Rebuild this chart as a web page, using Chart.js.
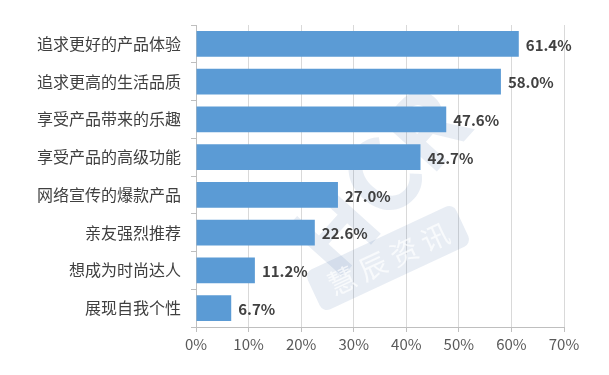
<!DOCTYPE html>
<html>
<head>
<meta charset="utf-8">
<script src="https://cdn.jsdelivr.net/npm/chart.js@4/dist/chart.umd.min.js"></script>
<style>
  html, body { margin: 0; padding: 0; background: #fff; }
  #wrap { width: 609px; height: 375px; }
</style>
</head>
<body>
<div id="wrap"><canvas id="myChart"></canvas></div>
<script>
const categories = [
  "追求更好的产品体验",
  "追求更高的生活品质",
  "享受产品带来的乐趣",
  "享受产品的高级功能",
  "网络宣传的爆款产品",
  "亲友强烈推荐",
  "想成为时尚达人",
  "展现自我个性"
];
const values = [61.4, 58.0, 47.6, 42.7, 27.0, 22.6, 11.2, 6.7];
const xTicks = [0, 10, 20, 30, 40, 50, 60, 70];

const FONT = "'Noto Sans CJK SC', 'Noto Sans', sans-serif";

// faint logo behind the bars
const watermark = {
  id: "watermark",
  beforeDatasetsDraw(chart) {
    const ctx = chart.ctx;
    ctx.save();
    ctx.globalAlpha = 0.11;
    ctx.fillStyle = "#2f5f9e";
    ctx.textAlign = "center";
    ctx.textBaseline = "middle";
    ctx.translate(378, 180);
    ctx.rotate(-48 * Math.PI / 180);
    ctx.font = "bold 100px " + FONT;
    ctx.fillText("HCR", 0, 0);
    ctx.restore();

    ctx.save();
    ctx.translate(388, 258);
    ctx.rotate(-25 * Math.PI / 180);
    ctx.globalAlpha = 0.11;
    ctx.fillStyle = "#2f5f9e";
    ctx.beginPath();
    ctx.roundRect(-82, -22, 164, 44, 8);
    ctx.fill();
    ctx.globalAlpha = 0.7;
    ctx.fillStyle = "#fff";
    ctx.textAlign = "center";
    ctx.textBaseline = "middle";
    ctx.font = "28px " + FONT;
    ctx.fillText("慧 辰 资 讯", 0, 1);
    ctx.restore();
  }
};

const valueLabels = {
  id: "valueLabels",
  afterDatasetsDraw(chart) {
    const ctx = chart.ctx;
    const meta = chart.getDatasetMeta(0);
    ctx.save();
    ctx.font = "bold 15px " + FONT;
    ctx.fillStyle = "#404040";
    ctx.textAlign = "left";
    ctx.textBaseline = "middle";
    meta.data.forEach((bar, i) => {
      ctx.fillText(values[i].toFixed(1) + "%", bar.x + 7, bar.y + 1);
    });
    ctx.restore();
  }
};

const ctx = document.getElementById("myChart").getContext("2d");
new Chart(ctx, {
  type: "bar",
  data: {
    labels: categories,
    datasets: [
      {
        data: values,
        backgroundColor: "#5b9bd5",
        borderWidth: 0,
        barPercentage: 0.68,
        categoryPercentage: 1,
      },
    ],
  },
  options: {
    indexAxis: "y",
    responsive: true,
    maintainAspectRatio: false,
    animation: false,
    layout: { padding: { top: 25, right: 45, left: 0, bottom: 0 } },
    plugins: {
      legend: { display: false },
      tooltip: { enabled: false },
    },
    scales: {
      x: {
        min: 0,
        max: 70,
        afterBuildTicks(scale) {
          scale.ticks = xTicks.map((v) => ({ value: v }));
        },
        afterFit(scale) {
          scale.height = 48;
        },
        ticks: {
          callback: (v) => v + "%",
          color: "#595959",
          font: { family: FONT, size: 15 },
          padding: 3,
          maxRotation: 0,
        },
        grid: {
          color: "#d9d9d9",
          tickColor: "#bfbfbf",
          tickLength: 5,
        },
        border: { color: "#bfbfbf" },
      },
      y: {
        afterFit(scale) {
          scale.width = 196;
        },
        ticks: {
          color: "#404040",
          font: { family: FONT, size: 16 },
          padding: 10,
        },
        grid: {
          offset: true,
          drawOnChartArea: false,
          tickColor: "#bfbfbf",
          tickLength: 5,
        },
        border: { color: "#bfbfbf" },
      },
    },
  },
  plugins: [watermark, valueLabels],
});
</script>
</body>
</html>
